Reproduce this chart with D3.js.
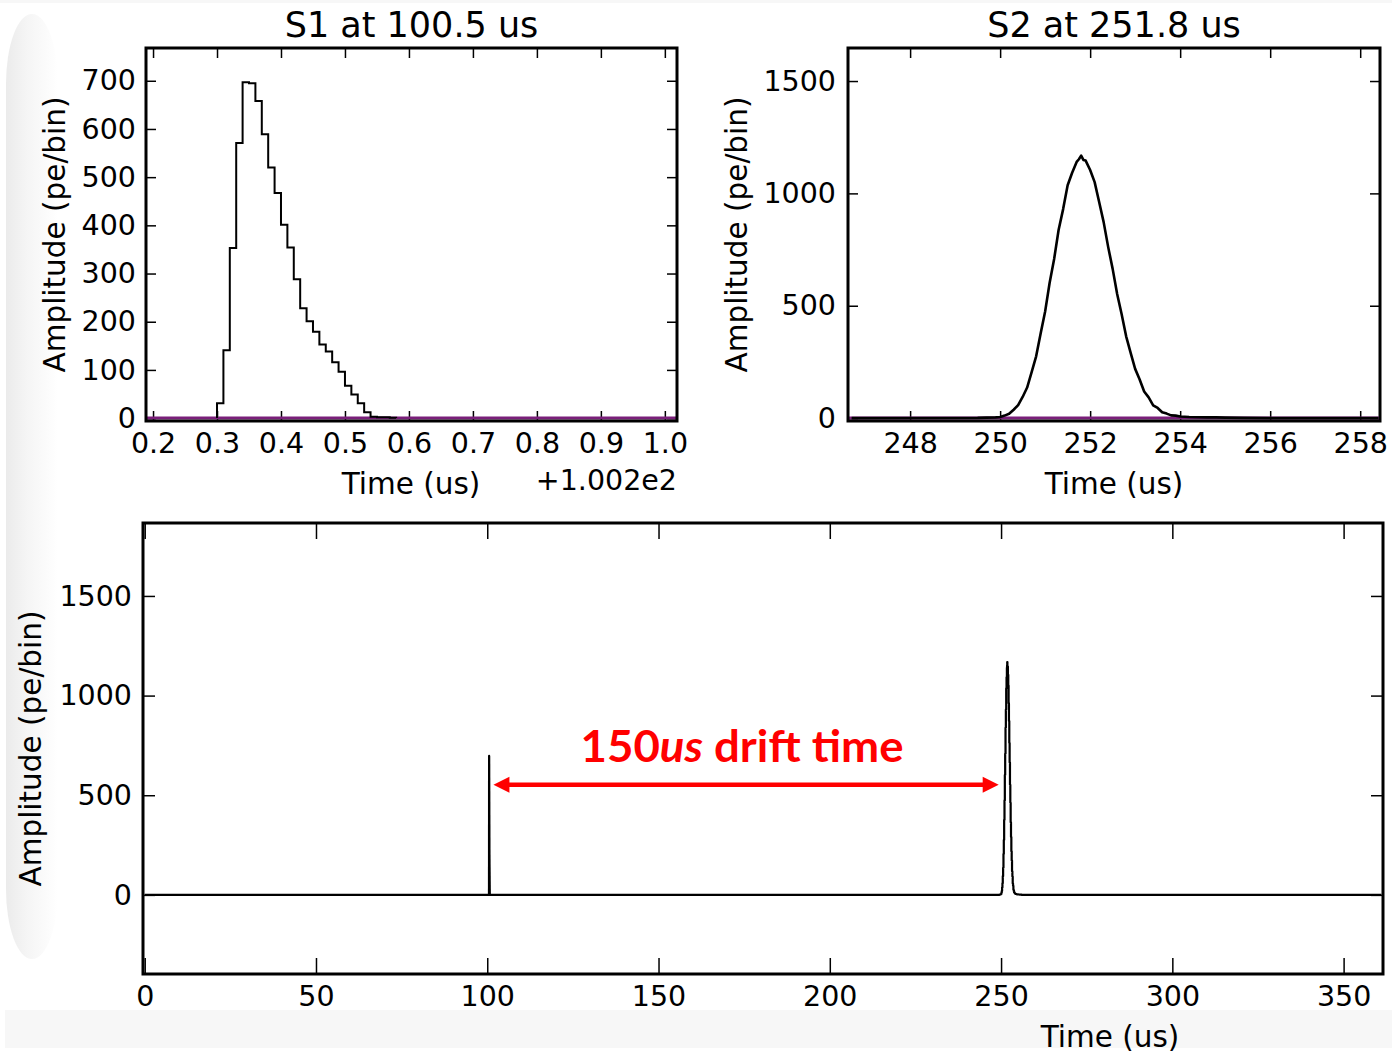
<!DOCTYPE html>
<html>
<head>
<meta charset="utf-8">
<script src="https://cdnjs.cloudflare.com/ajax/libs/d3/7.8.5/d3.min.js"></script>
<style>
  body { margin: 0; background: #fff; }
  svg { display: block; }
</style>
</head>
<body>
<div id="chart"></div>
<script>
// ---- data ----
// S1: histogram, bin start times are offsets from 100.2 us, bins 0.01 us wide
const s1Offset = 100.2;
const s1BinWidth = 0.01;
const s1BinTimes = [0.30, 0.31, 0.32, 0.33, 0.34, 0.35, 0.36, 0.37, 0.38, 0.39,
                    0.40, 0.41, 0.42, 0.43, 0.44, 0.45, 0.46, 0.47, 0.48, 0.49,
                    0.50, 0.51, 0.52, 0.53, 0.54, 0.55, 0.56, 0.57];
const s1Counts = [31, 141, 353, 571, 697, 695, 658, 589, 520, 467,
                  401, 354, 288, 228, 201, 179, 153, 138, 116, 96,
                  67, 49, 31, 12, 3, 2, 2, 1];

// S2: waveform around 251.8 us
const s2Times = [246.7, 249.5, 249.7, 249.9,
  250.0, 250.1, 250.2, 250.3, 250.4, 250.5, 250.6, 250.7, 250.8, 250.9,
  251.0, 251.1, 251.2, 251.3, 251.4, 251.5, 251.6, 251.7, 251.75, 251.8, 251.85, 251.9,
  252.0, 252.1, 252.2, 252.3, 252.4, 252.5, 252.6, 252.7, 252.8, 252.9,
  253.0, 253.1, 253.2, 253.3, 253.4, 253.5, 253.6, 253.7, 253.8, 253.9,
  254.0, 254.1, 254.2, 254.4, 254.6, 254.8, 255.0, 255.4, 256.0, 258.4];
const s2Amps = [0, 1, 2, 3,
  5, 11, 19, 37, 58, 94, 136, 205, 275, 376,
  474, 602, 708, 838, 930, 1036, 1092, 1140, 1152, 1168, 1149, 1146,
  1104, 1050, 962, 872, 762, 664, 552, 462, 364, 290,
  219, 172, 118, 92, 57, 45, 26, 20, 12, 11,
  7, 6, 5, 4, 3, 3, 2, 1, 0, 0];

const traceStart = 0, traceEnd = 361;

// ticks
const s1XTicks = [0.2, 0.3, 0.4, 0.5, 0.6, 0.7, 0.8, 0.9, 1.0];
const s1YTicks = [0, 100, 200, 300, 400, 500, 600, 700];
const s2XTicks = [248, 250, 252, 254, 256, 258];
const s2YTicks = [0, 500, 1000, 1500];
const fullXTicks = [0, 50, 100, 150, 200, 250, 300, 350];
const fullYTicks = [0, 500, 1000, 1500];

const FONT = "DejaVu Sans";
const TICK_FS = 28.5, LABEL_FS = 29.5, TITLE_FS = 35;

const svg = d3.select("#chart").append("svg")
  .attr("width", 1392).attr("height", 1055);

// slide-ish background: soft grey band on the left, light strip at the bottom
const defs = svg.append("defs");
const grad = defs.append("linearGradient").attr("id", "leftShade")
  .attr("x1", "0%").attr("x2", "100%").attr("y1", "0%").attr("y2", "0%");
grad.append("stop").attr("offset", "0%").attr("stop-color", "#ebebeb");
grad.append("stop").attr("offset", "40%").attr("stop-color", "#f5f5f5");
grad.append("stop").attr("offset", "100%").attr("stop-color", "#ffffff");
svg.append("rect").attr("x", 0).attr("y", 0).attr("width", 1392).attr("height", 3).attr("fill", "#f7f7f7");
svg.append("rect").attr("x", 6).attr("y", 14).attr("width", 52).attr("height", 945)
  .attr("rx", 40).attr("ry", 70).attr("fill", "url(#leftShade)");
svg.append("rect").attr("x", 5).attr("y", 1010).attr("width", 1387).attr("height", 38).attr("fill", "#f7f7f7");

function drawPanel(cfg) {
  const x = d3.scaleLinear().domain(cfg.xDomain).range([cfg.left, cfg.right]);
  const y = d3.scaleLinear().domain(cfg.yDomain).range([cfg.bottom, cfg.top]);
  const g = svg.append("g");

  const style = a => {
    a.select(".domain").remove();
    a.attr("font-size", TICK_FS).attr("font-family", FONT);
    a.selectAll(".tick line").attr("stroke-width", 1.5);
    a.selectAll(".tick text").attr("fill", "#000");
  };

  g.append("g").attr("transform", `translate(0,${cfg.bottom})`)
    .call(d3.axisBottom(x).tickValues(cfg.xTicks).tickFormat(cfg.xFormat)
      .tickSize(-cfg.xTickLen).tickPadding(cfg.xPad))
    .call(style);
  g.append("g").attr("transform", `translate(0,${cfg.top})`)
    .call(d3.axisTop(x).tickValues(cfg.xTicks).tickFormat("").tickSize(-cfg.xTickLen))
    .call(style);
  g.append("g").attr("transform", `translate(${cfg.left},0)`)
    .call(d3.axisLeft(y).tickValues(cfg.yTicks).tickFormat(d3.format("d"))
      .tickSize(-cfg.yTickLen).tickPadding(cfg.yPad))
    .call(style);
  g.append("g").attr("transform", `translate(${cfg.right},0)`)
    .call(d3.axisRight(y).tickValues(cfg.yTicks).tickFormat("").tickSize(-cfg.yTickLen))
    .call(style);

  const clipId = "clip" + cfg.id;
  defs.append("clipPath").attr("id", clipId).append("rect")
    .attr("x", cfg.left).attr("y", cfg.top)
    .attr("width", cfg.right - cfg.left).attr("height", cfg.bottom - cfg.top);
  const plot = g.append("g").attr("clip-path", `url(#${clipId})`);

  if (cfg.title) {
    g.append("text").attr("x", (cfg.left + cfg.right) / 2).attr("y", 37)
      .attr("text-anchor", "middle").attr("font-family", FONT).attr("font-size", TITLE_FS)
      .text(cfg.title);
  }
  g.append("text").attr("x", cfg.xLabelX).attr("y", cfg.xLabelY)
    .attr("text-anchor", "middle").attr("font-family", FONT).attr("font-size", LABEL_FS)
    .text("Time (us)");
  g.append("text")
    .attr("transform", `translate(${cfg.yLabelX},${(cfg.top + cfg.bottom) / 2}) rotate(-90)`)
    .attr("text-anchor", "middle").attr("font-family", FONT).attr("font-size", LABEL_FS)
    .text("Amplitude (pe/bin)");

  return {x, y, g, plot, cfg};
}

function drawFrame(p) {
  p.g.append("rect").attr("x", p.cfg.left).attr("y", p.cfg.top)
    .attr("width", p.cfg.right - p.cfg.left).attr("height", p.cfg.bottom - p.cfg.top)
    .attr("fill", "none").attr("stroke", "#000").attr("stroke-width", 3);
}

// ---- top left: S1 ----
const pS1 = drawPanel({
  id: "s1", left: 146, right: 677, top: 48, bottom: 421,
  xDomain: [0.189, 1.019], yDomain: [-6, 768],
  xTicks: s1XTicks, yTicks: s1YTicks, xFormat: d3.format(".1f"),
  xTickLen: 10, yTickLen: 10, xPad: 12, yPad: 10,
  title: "S1 at 100.5 us", xLabelX: 411, xLabelY: 494, yLabelX: 65
});
pS1.plot.append("line")
  .attr("x1", pS1.cfg.left).attr("x2", pS1.cfg.right)
  .attr("y1", pS1.y(0)).attr("y2", pS1.y(0))
  .attr("stroke", "#7a1f7a").attr("stroke-width", 3);
const s1Pts = [[s1BinTimes[0], 0]]
  .concat(s1BinTimes.map((t, i) => [t, s1Counts[i]]))
  .concat([[s1BinTimes[s1BinTimes.length - 1] + s1BinWidth, 0]]);
pS1.plot.append("path").datum(s1Pts)
  .attr("fill", "none").attr("stroke", "#000").attr("stroke-width", 2)
  .attr("d", d3.line().x(d => pS1.x(d[0])).y(d => pS1.y(d[1])).curve(d3.curveStepAfter));
pS1.g.append("text").attr("x", 677).attr("y", 490).attr("text-anchor", "end")
  .attr("font-family", FONT).attr("font-size", TICK_FS).text("+1.002e2");
drawFrame(pS1);

// ---- top right: S2 ----
const pS2 = drawPanel({
  id: "s2", left: 848, right: 1380, top: 48, bottom: 421,
  xDomain: [246.62, 258.44], yDomain: [-13, 1647],
  xTicks: s2XTicks, yTicks: s2YTicks, xFormat: d3.format("d"),
  xTickLen: 10, yTickLen: 10, xPad: 12, yPad: 12,
  title: "S2 at 251.8 us", xLabelX: 1114, xLabelY: 494, yLabelX: 747
});
pS2.plot.append("line")
  .attr("x1", pS2.cfg.left).attr("x2", pS2.cfg.right)
  .attr("y1", pS2.y(0)).attr("y2", pS2.y(0))
  .attr("stroke", "#7a1f7a").attr("stroke-width", 3);
pS2.plot.append("path").datum(s2Times.map((t, i) => [t, s2Amps[i]]))
  .attr("fill", "none").attr("stroke", "#000").attr("stroke-width", 2.6)
  .attr("stroke-linejoin", "round")
  .attr("d", d3.line().x(d => pS2.x(d[0])).y(d => pS2.y(d[1])));
drawFrame(pS2);

// ---- bottom: full trace ----
const pAll = drawPanel({
  id: "all", left: 143, right: 1383, top: 523, bottom: 974,
  xDomain: [-0.5, 361.5], yDomain: [-397, 1866],
  xTicks: fullXTicks, yTicks: fullYTicks, xFormat: d3.format("d"),
  xTickLen: 16, yTickLen: 12, xPad: 12, yPad: 11,
  title: null, xLabelX: 1110, xLabelY: 1047, yLabelX: 41
});
const fullPts = [[traceStart, 0]]
  .concat(s1BinTimes.map((t, i) => [s1Offset + t, s1Counts[i]]))
  .concat([[s1Offset + s1BinTimes[s1BinTimes.length - 1] + s1BinWidth, 0]])
  .concat(s2Times.filter(t => t > 249).map((t, i) => [t, s2Amps[s2Times.indexOf(t)]]))
  .concat([[traceEnd, 0]]);
pAll.plot.append("path").datum(fullPts)
  .attr("fill", "none").attr("stroke", "#000").attr("stroke-width", 2.2)
  .attr("stroke-linejoin", "round")
  .attr("d", d3.line().x(d => pAll.x(d[0])).y(d => pAll.y(d[1])).curve(d3.curveStepAfter));

// drift time annotation
const arrowFrom = 101.8, arrowTo = 249.3, arrowAmp = 552;
const ax1 = pAll.x(arrowFrom), ax2 = pAll.x(arrowTo), ay = pAll.y(arrowAmp);
const red = "#ff0000";
pAll.g.append("line").attr("x1", ax1 + 12).attr("x2", ax2 - 12)
  .attr("y1", ay).attr("y2", ay).attr("stroke", red).attr("stroke-width", 4.5);
pAll.g.append("path").attr("fill", red)
  .attr("d", `M${ax1},${ay} L${ax1 + 16},${ay - 8} L${ax1 + 16},${ay + 8} Z`);
pAll.g.append("path").attr("fill", red)
  .attr("d", `M${ax2},${ay} L${ax2 - 16},${ay + 8} L${ax2 - 16},${ay - 8} Z`);
const note = pAll.g.append("text").attr("x", (ax1 + ax2) / 2 - 4).attr("y", ay - 23)
  .attr("text-anchor", "middle").attr("font-family", "Lato").attr("font-weight", "bold")
  .attr("font-size", 44).attr("fill", red)
  .attr("textLength", 323).attr("lengthAdjust", "spacingAndGlyphs");
note.append("tspan").text("150");
note.append("tspan").attr("font-style", "italic").text("us");
note.append("tspan").text(" drift time");

drawFrame(pAll);
</script>
</body>
</html>
